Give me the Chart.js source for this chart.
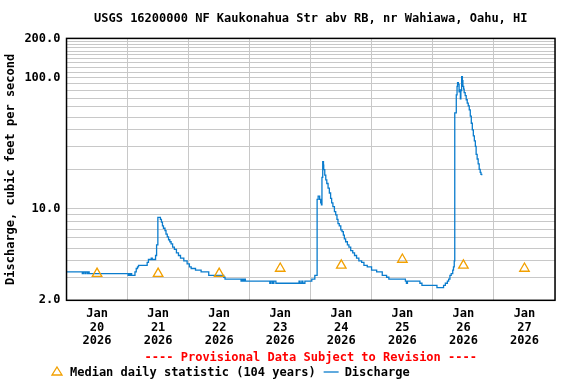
<!DOCTYPE html>
<html>
<head>
<meta charset="utf-8">
<script src="https://cdn.jsdelivr.net/npm/chart.js@4/dist/chart.umd.min.js"></script>
<style>
  html, body { margin: 0; padding: 0; background: #fff; }
  #wrap { width: 576px; height: 384px; }
</style>
</head>
<body>
<div id="wrap"><canvas id="flowChart"></canvas></div>
<script>
const dischargeHours = [
  0, 6.2, 6.6, 7.2, 7.6, 8.2, 8.6, 8.9, 24.2, 24.6, 24.9, 25.3, 25.6, 26.9, 27.4, 27.9, 28.3,
  31.7, 32.2, 33.3, 33.7, 35.0, 35.4, 35.9, 36.9, 37.3, 37.7, 38.1, 38.7, 39.1, 39.6, 40.1,
  40.6, 41.1, 41.7, 42.4, 43.2, 44.0, 44.8, 46.1, 47.4, 48.3, 49.0, 50.7, 52.9, 55.9, 61.8,
  62.3, 68.6, 69.0, 69.5, 69.9, 70.3, 79.9, 80.4, 81.0, 81.5, 82.3, 91.4, 91.8, 92.5, 92.9,
  93.7, 96.4, 97.6, 98.5, 98.9, 99.5, 99.9, 100.2, 100.4, 100.7, 101.0, 101.1, 101.5, 101.9,
  102.3, 102.8, 103.3, 103.8, 104.2, 104.7, 105.3, 105.8, 106.3, 106.7, 107.2, 107.8, 108.3,
  108.8, 109.2, 109.7, 110.4, 111.0, 111.7, 112.5, 113.2, 114.0, 114.9, 116.0, 116.9, 118.2,
  119.9, 121.9, 124.1, 125.8, 126.7, 133.2, 133.6, 134.0, 138.9, 139.7, 145.6, 148.2, 148.9,
  149.7, 150.2, 150.7, 151.2, 151.8, 152.1, 152.4, 152.6, 153.2, 153.5, 153.7, 154.0, 154.3,
  154.5, 154.8, 155.0, 155.3, 155.6, 155.8, 156.1, 156.3, 156.7, 157.1, 157.5, 157.9, 158.3,
  158.7, 159.1, 159.5, 159.9, 160.3, 160.7, 161.0, 161.4, 161.8, 162.2, 162.6, 162.9, 163.2
];
const dischargeCfs = [
  3.3, 3.2, 3.3, 3.2, 3.3, 3.2, 3.3, 3.2, 3.1, 3.2, 3.1, 3.2, 3.1, 3.3, 3.5, 3.6, 3.7,
  3.9, 4.1, 4.2, 4.1, 4.4, 5.3, 8.6, 8.3, 7.9, 7.4, 7.1, 6.8, 6.4, 6.1, 5.8,
  5.6, 5.4, 5.1, 4.9, 4.6, 4.4, 4.2, 4.0, 3.8, 3.6, 3.5, 3.4, 3.3, 3.1, 3.0,
  2.9, 2.8, 2.9, 2.8, 2.9, 2.8, 2.7, 2.8, 2.7, 2.8, 2.7, 2.8, 2.7, 2.8, 2.7,
  2.8, 2.9, 3.1, 11.8, 12.5, 11.8, 11.1, 10.7, 17.4, 22.9, 21.5, 19.9, 18.1, 16.6,
  15.6, 14.4, 13.2, 12.0, 11.1, 10.4, 9.5, 9.0, 8.3, 7.7, 7.4, 6.9, 6.7,
  6.3, 5.9, 5.6, 5.3, 5.1, 4.8, 4.6, 4.4, 4.2, 4.0, 3.9, 3.7, 3.6,
  3.4, 3.3, 3.1, 3.0, 2.9, 2.8, 2.7, 2.8, 2.7, 2.6, 2.5, 2.6, 2.7,
  2.8, 2.9, 3.1, 3.2, 3.4, 3.6, 4.0, 54, 74, 86, 92, 89, 78,
  81, 69, 80, 102, 95, 86, 82, 77, 73, 68, 64, 61, 57,
  51, 45, 40, 36, 33, 30, 26, 24, 22, 20, 19, 18.3, 18
];

// median daily statistic, plotted at noon of each day
const medianHours = [12, 36, 60, 84, 108, 132, 156, 180];
const medianCfs = [3.2, 3.2, 3.2, 3.5, 3.7, 4.1, 3.7, 3.5];

const dayLabels = ["20", "21", "22", "23", "24", "25", "26", "27"];
const yGridValues = [2, 3, 4, 5, 6, 7, 8, 9, 10, 20, 30, 40, 50, 60, 70, 80, 90,
  100, 110, 120, 130, 140, 150, 160, 170, 180, 190, 200];
const yLabelValues = [2, 10, 100, 200];

const FONT = "'DejaVu Sans Mono', 'Liberation Mono', monospace";
const BLUE = "#0a7ccd";
const ORANGE = "#f2a000";

// box around plot + the provisional note and legend under the axis
const framePlugin = {
  id: "frame",
  afterDraw(chart) {
    const { ctx, chartArea } = chart;
    ctx.save();
    ctx.strokeStyle = "#000";
    ctx.lineWidth = 1.5;
    ctx.strokeRect(chartArea.left, chartArea.top,
      chartArea.right - chartArea.left, chartArea.bottom - chartArea.top);

    ctx.font = "bold 12px " + FONT;
    ctx.textBaseline = "middle";
    ctx.textAlign = "center";
    ctx.fillStyle = "#ff0000";
    ctx.fillText("---- Provisional Data Subject to Revision ----",
      (chartArea.left + chartArea.right) / 2, 358);

    // legend row
    let x = 57;
    const y = 372;
    ctx.strokeStyle = ORANGE;
    ctx.lineWidth = 1.3;
    ctx.beginPath();
    ctx.moveTo(x, y - 5);
    ctx.lineTo(x + 5, y + 3);
    ctx.lineTo(x - 5, y + 3);
    ctx.closePath();
    ctx.stroke();

    ctx.textAlign = "left";
    ctx.fillStyle = "#000";
    const medText = "Median daily statistic (104 years)";
    ctx.fillText(medText, 70, y + 1);
    x = 70 + ctx.measureText(medText).width + 8;
    ctx.strokeStyle = BLUE;
    ctx.beginPath();
    ctx.moveTo(x, y);
    ctx.lineTo(x + 15, y);
    ctx.stroke();
    ctx.fillText("Discharge", x + 21, y + 1);
    ctx.restore();
  }
};

const ctx = document.getElementById("flowChart");

new Chart(ctx, {
  type: "line",
  data: {
    datasets: [
      {
        label: "Median daily statistic (104 years)",
        data: medianHours.map((h, i) => ({ x: h, y: medianCfs[i] })),
        showLine: false,
        pointStyle: "triangle",
        pointRadius: 5.5,
        pointBorderWidth: 1.3,
        pointBorderColor: ORANGE,
        pointBackgroundColor: "rgba(255,255,255,0)"
      },
      {
        label: "Discharge",
        data: dischargeHours.map((h, i) => ({ x: h, y: dischargeCfs[i] })),
        borderColor: BLUE,
        borderWidth: 1.3,
        pointRadius: 0,
        stepped: true,
        fill: false
      }
    ]
  },
  options: {
    responsive: true,
    maintainAspectRatio: false,
    animation: false,
    layout: { padding: { left: 0, right: 21, top: 0, bottom: 29 } },
    scales: {
      x: {
        type: "linear",
        min: 0,
        max: 192,
        afterBuildTicks: scale => {
          const ticks = [];
          for (let v = 0; v <= 192; v += 12) ticks.push({ value: v });
          scale.ticks = ticks;
        },
        border: { display: false },
        grid: {
          drawTicks: false,
          color: c => (c.tick && c.tick.value % 24 === 0) ? "#c8c8c8" : "rgba(0,0,0,0)"
        },
        ticks: {
          autoSkip: false,
          maxRotation: 0,
          padding: 7,
          color: "#000",
          font: { family: FONT, size: 12, weight: "bold", lineHeight: 1.13 },
          callback: v => (v % 24 === 12) ? ["Jan", dayLabels[(v - 12) / 24], "2026"] : ""
        }
      },
      y: {
        type: "logarithmic",
        min: 2,
        max: 200,
        afterBuildTicks: scale => {
          scale.ticks = yGridValues.map(v => ({ value: v }));
        },
        border: { display: false },
        grid: { drawTicks: false, color: "#c8c8c8" },
        ticks: {
          autoSkip: false,
          padding: 6,
          color: "#000",
          font: { family: FONT, size: 12, weight: "bold" },
          callback: v => yLabelValues.includes(v) ? v.toFixed(1) : ""
        },
        title: {
          display: true,
          text: "Discharge, cubic feet per second",
          color: "#000",
          font: { family: FONT, size: 12, weight: "bold" },
          padding: { top: 4, bottom: 0 }
        }
      }
    },
    plugins: {
      legend: { display: false },
      tooltip: { enabled: false },
      title: {
        display: true,
        fullSize: false,
        text: "USGS 16200000 NF Kaukonahua Str abv RB, nr Wahiawa, Oahu, HI",
        color: "#000",
        font: { family: FONT, size: 12, weight: "bold" },
        padding: { top: 12, bottom: 12 }
      }
    }
  },
  plugins: [framePlugin]
});
</script>
</body>
</html>
